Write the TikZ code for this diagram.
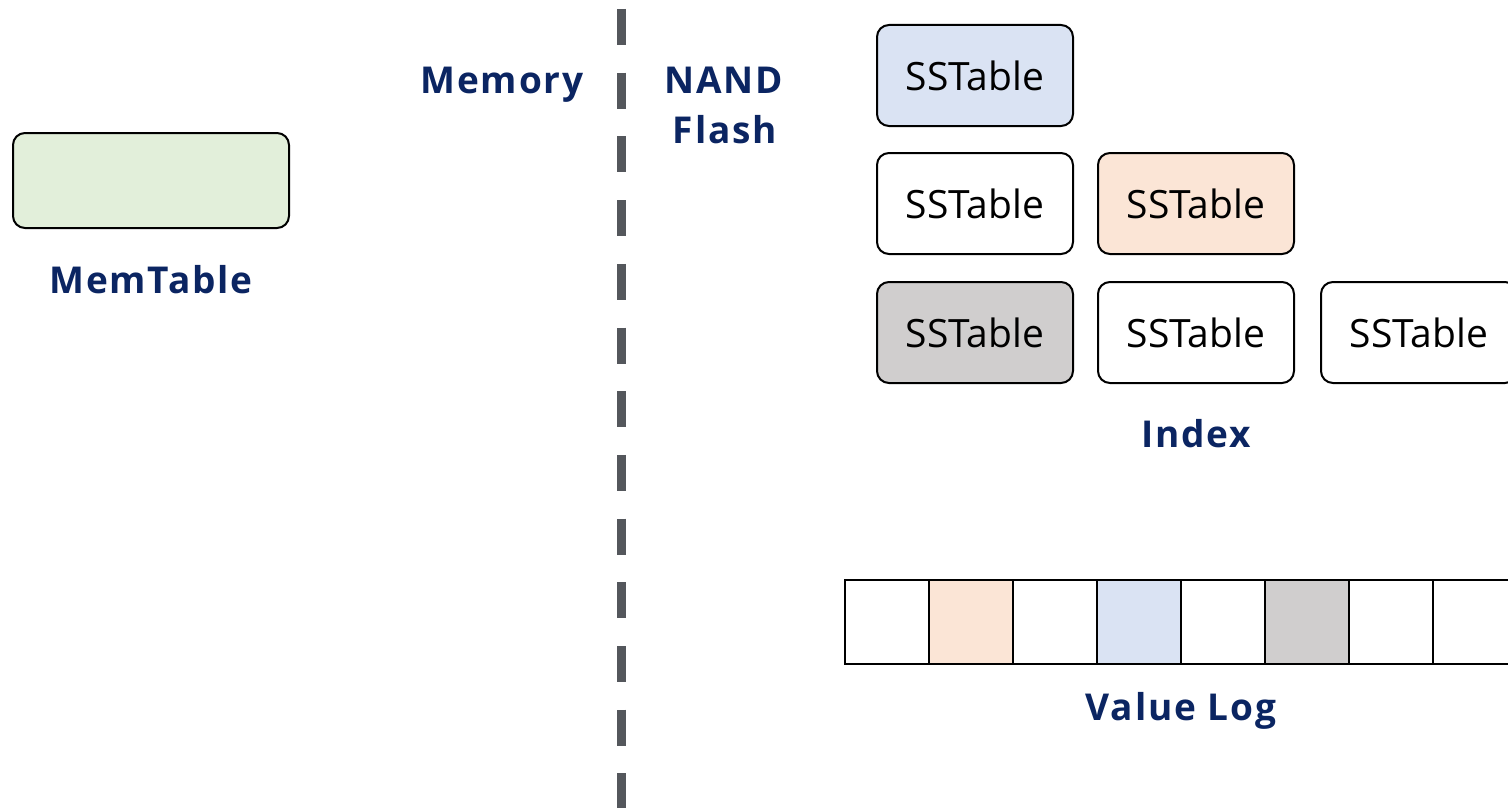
\documentclass[tikz,border=0pt]{standalone}
\usepackage{fontspec}
\setmainfont{Open Sans}
\newfontfamily\labelfont[LetterSpace=5]{Open Sans Bold}
\definecolor{navy}{HTML}{0B2562}
\definecolor{mtgreen}{HTML}{E2EFDA}
\definecolor{sblue}{HTML}{DAE3F3}
\definecolor{speach}{HTML}{FBE5D6}
\definecolor{sgray}{HTML}{D0CECE}
\definecolor{divgray}{HTML}{54575C}
\begin{document}
\begin{tikzpicture}[x=1pt,y=-1pt,
  tablebox/.style={draw=black,line width=2pt,rounded corners=12pt,minimum width=196pt,minimum height=101pt,inner sep=0pt,font=\fontsize{39}{44}\selectfont},
  logcell/.style={draw=black,line width=2.5pt,minimum width=84pt,minimum height=84pt,inner sep=0pt},
  biglabel/.style={text=navy,font=\labelfont\fontsize{37}{42}\selectfont,anchor=base,inner sep=0pt},
  divider/.style={draw=divgray,line width=9pt,dash pattern=on 36pt off 27.7pt}]
\useasboundingbox (0,0) rectangle (1508,808);
% divider
\coordinate (dtop) at (621,9);
\coordinate (dbot) at (621,830);
\draw[divider] (dtop) -- (dbot);
% labels
\node[biglabel] (mem) at (502,93) {Memory};
\node[biglabel] (nand) at (724,93) {NAND};
\node[biglabel] (flash) at (725,143) {Flash};
% memtable
\node[draw=black,line width=2pt,rounded corners=12pt,fill=mtgreen,minimum width=276pt,minimum height=95pt] (memtable) at (151,180.5) {};
\node[biglabel] (memlabel) at (151,293) {MemTable};
% SSTables
\node[tablebox,fill=sblue] (s11) at (975,75.5) {SSTable};
\node[tablebox,fill=white] (s21) at (975,203.5) {SSTable};
\node[tablebox,fill=speach] (s22) at (1196,203.5) {SSTable};
\node[tablebox,fill=sgray] (s31) at (975,332.5) {SSTable};
\node[tablebox,fill=white] (s32) at (1196,332.5) {SSTable};
\node[tablebox,fill=white] (s33) at (1419,332.5) {SSTable};
\node[biglabel] (index) at (1196,447) {Index};
% value log
\node[logcell,fill=white] (c1) at (887,622) {};
\node[logcell,fill=speach] (c2) at (971,622) {};
\node[logcell,fill=white] (c3) at (1055,622) {};
\node[logcell,fill=sblue] (c4) at (1139,622) {};
\node[logcell,fill=white] (c5) at (1223,622) {};
\node[logcell,fill=sgray] (c6) at (1307,622) {};
\node[logcell,fill=white] (c7) at (1391,622) {};
\node[logcell,fill=white] (c8) at (1475,622) {};
\node[biglabel] (vlog) at (1181,720) {Value Log};
\end{tikzpicture}
\end{document}
